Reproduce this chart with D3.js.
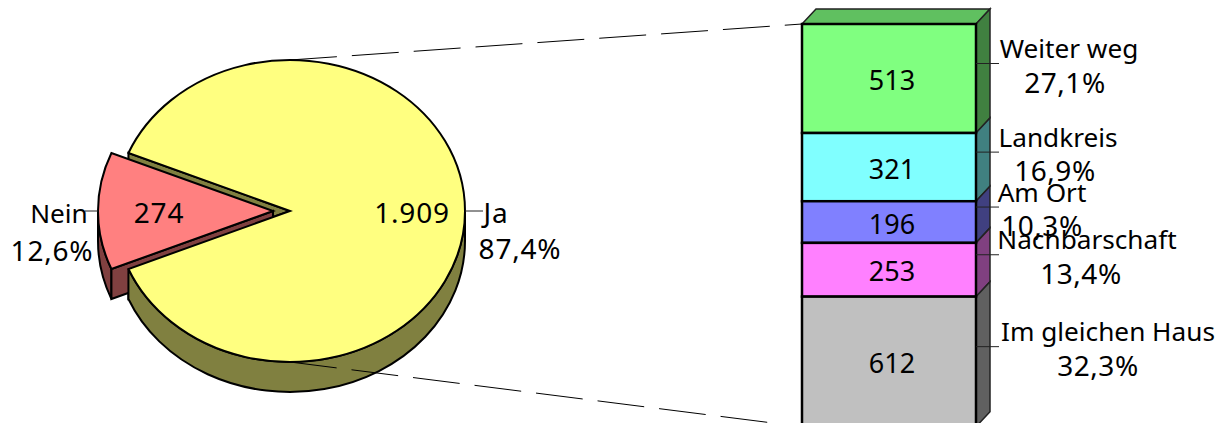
<!DOCTYPE html>
<html>
<head>
<meta charset="utf-8">
<script src="https://cdn.jsdelivr.net/npm/d3@7/dist/d3.min.js"></script>
<style>
  html, body { margin: 0; padding: 0; background: #fff; }
  svg { display: block; }
  text { font-family: "Noto Sans", "DejaVu Sans", sans-serif; font-size: 26.2px; fill: #000; }
  text.val { font-size: 27px; }
  text.pct { font-size: 28px; letter-spacing: 0.5px; }
  text.pie { font-size: 28px; letter-spacing: 0.8px; }
</style>
</head>
<body>
<div id="chart"></div>
<script>
// pie: all answers
var pieNames = ["Ja", "Nein"];
var pieValues = [1909, 274];
var piePercents = ["87,4%", "12,6%"];
var pieColors = ["#ffff80", "#ff8080"];
var pieWalls = ["#808040", "#804040"];

// column: breakdown of "Ja", top to bottom
var barNames = ["Weiter weg", "Landkreis", "Am Ort", "Nachbarschaft", "Im gleichen Haus"];
var barValues = [513, 321, 196, 253, 612];
var barPercents = ["27,1%", "16,9%", "10,3%", "13,4%", "32,3%"];
var barColors = ["#80ff80", "#80ffff", "#8080ff", "#ff80ff", "#c0c0c0"];
var barSides = ["#408040", "#408080", "#404080", "#804080", "#606060"];

var width = 1224, height = 423;
var cx = 290, cy = 211, rx = 175, ry = 151, depth = 30, explode = 17;
var barLeft = 802, barRight = 976, barTop = 24, barDx = 14, barDy = 15;

var svg = d3.select("#chart").append("svg")
  .attr("width", width)
  .attr("height", height);

var fmt = d3.formatLocale({decimal: ",", thousands: ".", grouping: [3], currency: ["", ""]}).format(",d");

// ---- pie, squashed to an ellipse ----
var noShare = pieValues[1] / d3.sum(pieValues) * 2 * Math.PI;
var slices = d3.pie().sort(null)
  .startAngle(-Math.PI / 2 + noShare / 2)
  .endAngle(1.5 * Math.PI + noShare / 2)(pieValues);

function px(a, ox) { return (ox || 0) + cx + rx * Math.sin(a); }
function py(a, oy) { return (oy || 0) + cy - ry * Math.cos(a); }

function topPath(s, ox) {
  var large = s.endAngle - s.startAngle > Math.PI ? 1 : 0;
  return "M" + (cx + ox) + "," + cy + "L" + px(s.startAngle, ox) + "," + py(s.startAngle) +
    "A" + rx + "," + ry + " 0 " + large + " 1 " + px(s.endAngle, ox) + "," + py(s.endAngle) + "Z";
}
// outer wall between two angles, walking clockwise
function wallPath(a0, a1, ox) {
  var large = a1 - a0 > Math.PI ? 1 : 0;
  return "M" + px(a0, ox) + "," + py(a0) +
    "A" + rx + "," + ry + " 0 " + large + " 1 " + px(a1, ox) + "," + py(a1) +
    "L" + px(a1, ox) + "," + py(a1, depth) +
    "A" + rx + "," + ry + " 0 " + large + " 0 " + px(a0, ox) + "," + py(a0, depth) + "Z";
}
function cutPath(a, ox) {
  return "M" + (cx + ox) + "," + cy + "L" + px(a, ox) + "," + py(a) +
    "L" + px(a, ox) + "," + py(a, depth) + "L" + (cx + ox) + "," + (cy + depth) + "Z";
}

var ja = slices[0], nein = slices[1];
var pieLayer = svg.append("g").attr("stroke", "#000").attr("stroke-width", 2).attr("stroke-linejoin", "miter");

// back cut of the big slice shows through the gap
pieLayer.append("path").attr("d", cutPath(ja.startAngle, 0)).attr("fill", pieWalls[0]);
pieLayer.append("path").attr("d", cutPath(ja.endAngle, 0)).attr("fill", pieWalls[0]);

// exploded slice
pieLayer.append("path").attr("d", wallPath(nein.startAngle, 1.5 * Math.PI, -explode)).attr("fill", pieWalls[1]);
pieLayer.append("path").attr("d", cutPath(nein.startAngle, -explode)).attr("fill", pieWalls[1]);
pieLayer.append("path").attr("d", topPath(nein, -explode)).attr("fill", pieColors[1]);

// big slice
pieLayer.append("path").attr("d", wallPath(Math.PI / 2, ja.endAngle, 0)).attr("fill", pieWalls[0]);
pieLayer.append("path").attr("d", topPath(ja, 0)).attr("fill", pieColors[0]);

// ---- column ----
var y = d3.scaleLinear().domain([0, 2230]).range([barTop, barTop + 2230 * 0.2125]);
var stack = d3.cumsum(barValues);
var segs = barValues.map(function(v, i) {
  return {i: i, y0: y(stack[i] - v), y1: y(stack[i])};
});

// connecting dashed lines
svg.append("g").selectAll("line")
  .data([[py(0), barTop], [py(Math.PI), y(stack[4])]])
  .enter().append("line")
  .attr("x1", cx).attr("x2", barLeft)
  .attr("y1", function(d) { return d[0]; })
  .attr("y2", function(d) { return d[1]; })
  .attr("stroke", "#000").attr("stroke-width", 1)
  .attr("stroke-dasharray", "47,15");

// top lid
svg.append("path")
  .attr("d", "M" + barLeft + "," + barTop + "L" + (barLeft + barDx) + "," + (barTop - barDy) +
    "L" + (barRight + barDx) + "," + (barTop - barDy) + "L" + barRight + "," + barTop + "Z")
  .attr("fill", "#60c060").attr("stroke", "#222").attr("stroke-width", 1.5);

// side faces
svg.append("g").selectAll("path")
  .data(segs)
  .enter().append("path")
  .attr("d", function(d) {
    return "M" + barRight + "," + d.y0 + "L" + (barRight + barDx) + "," + (d.y0 - barDy) +
      "L" + (barRight + barDx) + "," + (d.y1 - barDy) + "L" + barRight + "," + d.y1 + "Z";
  })
  .attr("fill", function(d) { return barSides[d.i]; })
  .attr("stroke", "#222").attr("stroke-width", 1.5);

// front faces
svg.append("g").selectAll("rect")
  .data(segs)
  .enter().append("rect")
  .attr("x", barLeft)
  .attr("y", function(d) { return d.y0; })
  .attr("width", barRight - barLeft)
  .attr("height", function(d) { return d.y1 - d.y0; })
  .attr("fill", function(d) { return barColors[d.i]; })
  .attr("stroke", "#000").attr("stroke-width", 2.5);

// leader lines
var leaderY = function(d) { return (d.y0 + d.y1) / 2 - barDy; };
svg.append("g").selectAll("line")
  .data(segs)
  .enter().append("line")
  .attr("x1", barRight).attr("x2", 999)
  .attr("y1", leaderY).attr("y2", leaderY)
  .attr("stroke", "#222").attr("stroke-width", 1);
svg.append("line").attr("x1", px(Math.PI / 2)).attr("x2", 483).attr("y1", cy).attr("y2", cy).attr("stroke", "#222");
svg.append("line").attr("x1", px(-Math.PI / 2, -explode)).attr("x2", 85).attr("y1", cy).attr("y2", cy).attr("stroke", "#222");

// column labels
var labelMid = [1069, 1058, 1042, 1087, 1108];
var pctMid = [1065, 1055, 1042, 1081, 1098];
var labels = svg.append("g");
labels.selectAll(".val").data(segs).enter().append("text")
  .attr("class", "val")
  .attr("x", (barLeft + barRight) / 2 + 3)
  .attr("y", function(d) { return (d.y0 + d.y1) / 2 + 11.5; })
  .attr("text-anchor", "middle")
  .text(function(d) { return fmt(barValues[d.i]); });
labels.selectAll(".name").data(segs).enter().append("text")
  .attr("class", "name")
  .attr("x", function(d) { return labelMid[d.i]; })
  .attr("y", function(d) { return leaderY(d) - 5.5; })
  .attr("text-anchor", "middle")
  .text(function(d) { return barNames[d.i]; });
labels.selectAll(".pct").data(segs).enter().append("text")
  .attr("class", "pct")
  .attr("x", function(d) { return pctMid[d.i]; })
  .attr("y", function(d) { return leaderY(d) + 29; })
  .attr("text-anchor", "middle")
  .text(function(d) { return barPercents[d.i]; });

// pie labels
var pieText = [
  {t: pieNames[0], x: 496, y: 223, c: "pie"},
  {t: piePercents[0], x: 520, y: 259, c: "pie"},
  {t: fmt(pieValues[0]), x: 412, y: 223, c: "pie"},
  {t: pieNames[1], x: 59, y: 223, c: "name"},
  {t: piePercents[1], x: 52, y: 261, c: "pie"},
  {t: fmt(pieValues[1]), x: 159, y: 223, c: "pie"}
];
labels.selectAll(".pielabel").data(pieText).enter().append("text")
  .attr("class", function(d) { return "pielabel " + d.c; })
  .attr("x", function(d) { return d.x; })
  .attr("y", function(d) { return d.y; })
  .attr("text-anchor", "middle")
  .text(function(d) { return d.t; });
</script>
</body>
</html>
